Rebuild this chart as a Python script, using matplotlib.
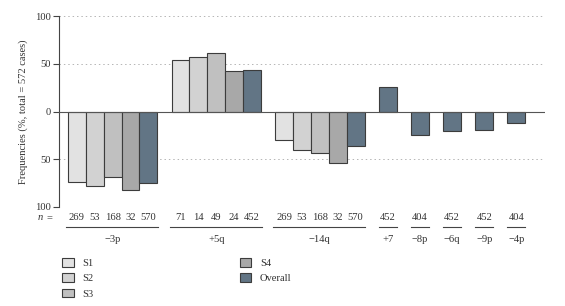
import matplotlib
matplotlib.use("Agg")
import matplotlib.pyplot as plt
from matplotlib.patches import Patch
from matplotlib.transforms import blended_transform_factory
import numpy as np

plt.rcParams['font.family'] = ['Liberation Serif', 'DejaVu Serif']

# ---- data ----
series = ["S1", "S2", "S3", "S4", "Overall"]
colors = ["#e2e2e2", "#d2d2d2", "#c0c0c0", "#a8a8a8", "#627585"]

group_labels = ["\u22123p", "+5q", "\u221214q"]
group_values = [
    [-74, -77.5, -68.5, -82, -75],   # -3p
    [54, 57, 61, 42, 43],            # +5q
    [-29.5, -40.5, -43.5, -54, -36.5],  # -14q
]
group_n = [
    [269, 53, 168, 32, 570],
    [71, 14, 49, 24, 452],
    [269, 53, 168, 32, 570],
]

single_labels = ["+7", "\u22128p", "\u22126q", "\u22129p", "\u22124p"]
single_values = [26, -24.5, -20.5, -19, -12.5]
single_n = [452, 404, 452, 452, 404]

ytick_vals = [100, 50, 0, -50, -100]
ytick_text = ["100", "50", "0", "50", "100"]

# ---- figure ----
W, H = 565, 306
fig = plt.figure(figsize=(W / 100, H / 100), dpi=100)
ax_left, ax_right = 59 / W, 545 / W
ax_bot, ax_top = 1 - 207 / H, 1 - 16 / H
ax = fig.add_axes([ax_left, ax_bot, ax_right - ax_left, ax_top - ax_bot])

fs = 7.6
edge = "#3c3c3c"
gap = 0.8
textc = "#333333"

trans = blended_transform_factory(ax.transData, fig.transFigure)
y_n = 1 - 218 / H
y_line = 1 - 227 / H
y_lab = 1 - 240 / H

start = 0.0
for vals, ns, lab in zip(group_values, group_n, group_labels):
    xs = start + np.arange(len(vals)) + 0.5
    ax.bar(xs, vals, width=1.0, color=colors, edgecolor=edge, linewidth=0.8, zorder=3)
    for x, n in zip(xs, ns):
        ax.text(x, y_n, str(n), transform=trans, ha="center", va="center",
                fontsize=fs, color=textc, clip_on=False)
    ax.plot([start - 0.1, start + len(vals) + 0.05], [y_line, y_line], transform=trans,
            color="#444444", lw=0.8, clip_on=False)
    ax.text(start + len(vals) / 2, y_lab, lab, transform=trans, ha="center", va="center",
            fontsize=fs, color=textc, clip_on=False)
    start += len(vals) + gap

for val, n, lab in zip(single_values, single_n, single_labels):
    x = start + 0.5
    ax.bar([x], [val], width=1.0, color=colors[-1], edgecolor=edge, linewidth=0.8, zorder=3)
    ax.text(x, y_n, str(n), transform=trans, ha="center", va="center",
            fontsize=fs, color=textc, clip_on=False)
    ax.plot([start, start + 1], [y_line, y_line], transform=trans,
            color="#444444", lw=0.8, clip_on=False)
    ax.text(x, y_lab, lab, transform=trans, ha="center", va="center",
            fontsize=fs, color=textc, clip_on=False)
    start += 1 + gap

# "n =" label
fig.text(38 / W, y_n, "n", ha="left", va="center", fontsize=fs, color=textc, style="italic")
fig.text(46 / W, y_n, "=", ha="left", va="center", fontsize=fs, color=textc)

ax.set_xlim(-0.5, 26.7)
ax.set_ylim(-100, 100)

for y in [100, 50, -50, -100]:
    ax.axhline(y, color="#b5b5b5", lw=0.7, ls=(0, (1.5, 3)), zorder=1)
ax.axhline(0, color="#555555", lw=0.8, zorder=4)

for s in ["top", "right", "bottom"]:
    ax.spines[s].set_visible(False)
ax.spines["left"].set_color("#444444")
ax.spines["left"].set_linewidth(0.8)
ax.set_xticks([])
ax.set_yticks(ytick_vals)
ax.set_yticklabels(ytick_text, fontsize=fs, color=textc)
ax.tick_params(axis="y", length=4, width=0.8, color="#444444", pad=2)
ax.set_ylabel("Frequencies (%, total = 572 cases)", fontsize=fs, color=textc, labelpad=5)

handles = [Patch(facecolor=c, edgecolor=edge, linewidth=0.8) for c in colors]
fig.legend(handles, series, loc="upper left", bbox_to_anchor=(62 / W, 1 - 258 / H),
           ncol=2, frameon=False, fontsize=fs, handlelength=1.1, handleheight=0.9,
           handletextpad=0.85, labelspacing=0.5, columnspacing=13.8,
           borderpad=0, borderaxespad=0, labelcolor=textc)

fig.savefig("out.png", dpi=100)
